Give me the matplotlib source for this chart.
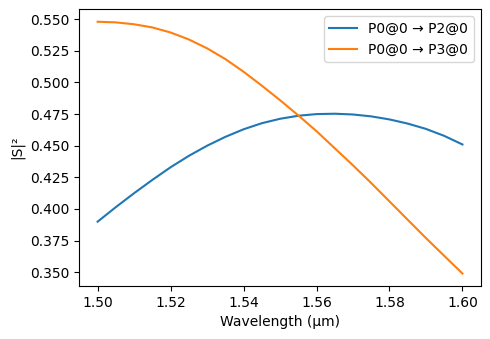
import matplotlib
matplotlib.use("Agg")
from matplotlib import pyplot as plt

wavelength = [1.500, 1.505, 1.510, 1.515, 1.520, 1.525, 1.530, 1.535, 1.540, 1.545,
	1.550, 1.555, 1.560, 1.565, 1.570, 1.575, 1.580, 1.585, 1.590, 1.595, 1.600]
p2 = [0.3900, 0.4015, 0.4125, 0.4230, 0.4330, 0.4420, 0.4500, 0.4570, 0.4630, 0.4678,
	0.4713, 0.4737, 0.4750, 0.4753, 0.4747, 0.4732, 0.4708, 0.4675, 0.4633, 0.4578, 0.4510]
p3 = [0.5480, 0.5475, 0.5460, 0.5435, 0.5395, 0.5340, 0.5270, 0.5185, 0.5085, 0.4975,
	0.4860, 0.4740, 0.4615, 0.4480, 0.4345, 0.4205, 0.4060, 0.3915, 0.3770, 0.3630, 0.3490]
labels = ["P0@0 → P2@0", "P0@0 → P3@0"]

fig, ax = plt.subplots(figsize=(4.9, 3.39), dpi=100)
ax.plot(wavelength, p2, label=labels[0])
ax.plot(wavelength, p3, label=labels[1])
ax.set_xlabel("Wavelength (µm)")
ax.set_ylabel("|S|²")
ax.legend()
fig.subplots_adjust(left=0.162, right=0.981, top=0.973, bottom=0.156)
plt.savefig("out.png")
